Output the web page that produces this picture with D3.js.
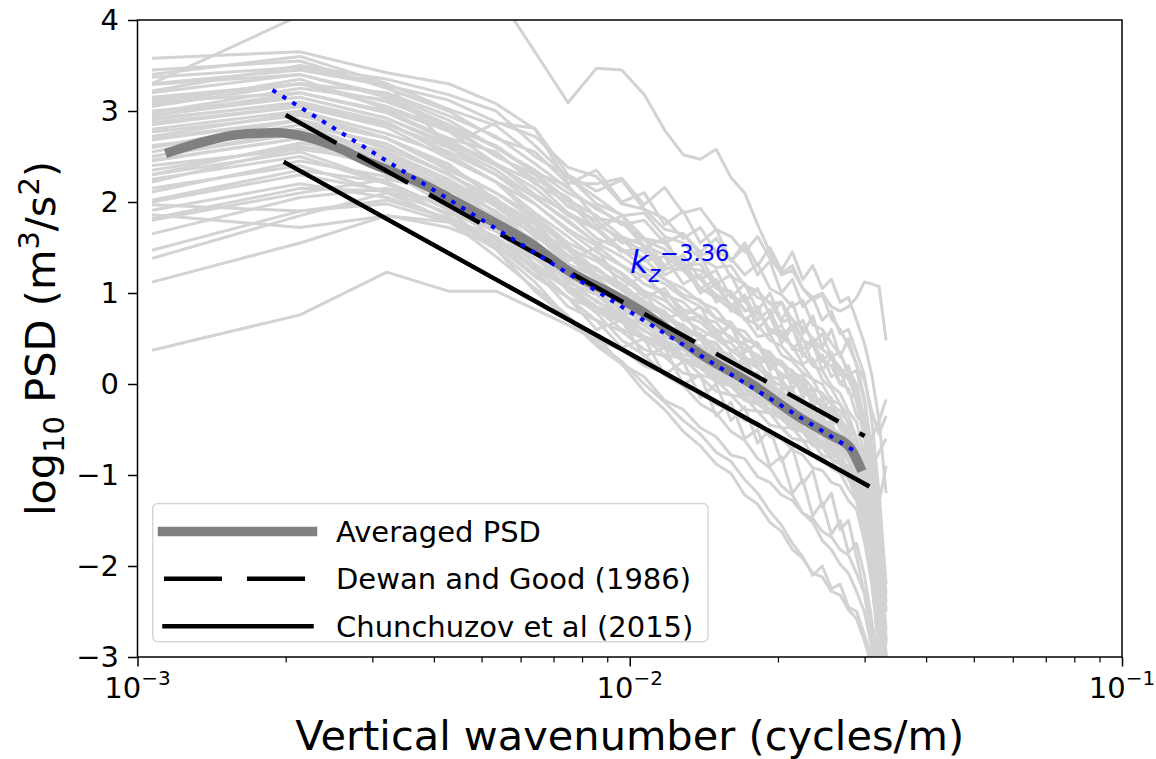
<!DOCTYPE html>
<html><head><meta charset="utf-8">
<script src="https://cdn.jsdelivr.net/npm/d3@7"></script>
<style>body{margin:0;background:#fff} text{font-family:"DejaVu Sans",sans-serif}</style>
</head><body><svg id="c" width="1156" height="759"></svg>
<script>
// wavenumber grid (cycles/m)
const wavenumber = [0.00107,0.00214,0.00321,0.00428,0.00535,0.00642,0.00749,0.00856,0.00963,0.0107,
  0.01177,0.01284,0.01391,0.01498,0.01605,0.01712,0.01819,0.01926,0.02033,0.0214,
  0.02247,0.02354,0.02461,0.02568,0.02675,0.02782,0.02889,0.02996,0.03103,0.0321,0.03317];

// individual log10 PSD profiles
const psd01=[3.58,3.65,3.42,3.3,3.08,2.8,2.21,2.2,2.26,1.97,2.16,1.88,1.93,1.7,1.62,1.45,1.62,1.38,1.22,1.3,1.05,0.92,0.98,0.72,0.6,0.42,0.22,-0.15,-0.75,-1.6,-2.5];
const psd02=[3.37,3.48,3.3,3.02,2.84,2.5,2.28,1.98,1.86,1.6,1.55,1.3,1.32,1.05,1.02,0.8,0.85,0.58,0.52,0.42,0.22,0.28,0.05,-0.05,-0.22,-0.35,-0.6,-0.95,-1.45,-2.2,-3.1];
const psd03=[3.29,3.4,3.18,2.9,2.6,2.32,2.02,1.85,1.62,1.52,1.28,1.25,1.05,0.95,0.82,0.72,0.52,0.55,0.32,0.25,0.12,0.05,-0.15,-0.2,-0.38,-0.5,-0.72,-1.05,-1.6,-2.45,-3.3];
const psd04=[3.15,3.3,3.2,2.95,2.72,2.42,2.15,1.92,1.78,1.58,1.48,1.28,1.25,1.1,0.98,0.82,0.78,0.6,0.58,0.4,0.35,0.2,0.15,-0.02,-0.1,-0.3,-0.42,-0.78,-1.25,-1.95,-2.85];
const psd05=[3.07,3.35,3.02,2.78,2.42,2.22,1.88,1.72,1.48,1.38,1.15,1.05,0.9,0.82,0.62,0.58,0.4,0.35,0.2,0.15,-0.02,-0.08,-0.25,-0.28,-0.48,-0.58,-0.85,-1.2,-1.8,-2.55,-3.4];
const psd06=[2.98,3.25,3.12,2.82,2.62,2.32,2.18,1.82,1.78,1.52,1.42,1.25,1.15,0.98,0.88,0.72,0.65,0.48,0.42,0.28,0.2,0.05,0.0,-0.18,-0.22,-0.45,-0.58,-0.98,-1.45,-2.25,-3.05];
const psd07=[3.3,3.45,3.28,3.12,2.88,2.72,2.38,2.28,1.98,1.92,1.7,1.65,1.42,1.45,1.18,1.1,0.95,0.9,0.68,0.72,0.48,0.42,0.25,0.2,0.0,-0.05,-0.35,-0.45,-0.6,-0.4,-0.17];
const psd08=[3.1,3.2,2.98,2.68,2.42,2.08,1.88,1.6,1.48,1.28,1.15,0.98,0.92,0.72,0.68,0.48,0.45,0.25,0.22,0.05,0.0,-0.15,-0.2,-0.4,-0.45,-0.7,-0.82,-1.25,-1.8,-2.65,-3.5];
const psd09=[3.4,3.6,3.3,2.62,2.87,2.81,2.3,2.12,2.24,1.92,1.82,1.6,1.72,1.45,1.38,1.2,1.32,1.05,0.98,0.85,0.92,0.65,0.6,0.45,0.32,0.15,0.0,-0.4,-1.0,-1.8,-2.7];
const psd10=[3.22,3.5,3.35,3.18,3.0,2.62,2.27,2.05,1.85,1.88,1.62,1.55,1.38,1.28,1.3,1.08,1.02,0.88,0.9,0.7,0.62,0.5,0.38,0.3,0.18,0.05,-0.15,-0.5,-1.1,-1.9,-2.8];
const psd11=[2.87,3.05,2.82,2.48,2.22,1.88,1.62,1.38,1.22,1.02,0.92,0.75,0.68,0.52,0.45,0.28,0.25,0.08,0.05,-0.12,-0.15,-0.35,-0.35,-0.52,-0.55,-0.75,-0.88,-1.3,-1.8,-2.65,-3.4];
const psd12=[2.77,2.95,2.7,2.42,2.02,1.78,1.4,1.28,1.05,0.92,0.72,0.65,0.5,0.45,0.25,0.22,0.05,0.02,-0.15,-0.15,-0.32,-0.35,-0.5,-0.52,-0.7,-0.72,-0.98,-1.22,-1.7,-2.35,-3.25];
const psd13=[2.68,2.9,2.58,2.32,1.96,1.68,1.32,1.18,0.92,0.82,0.64,0.58,0.38,0.34,0.15,0.14,-0.05,-0.05,-0.2,-0.22,-0.38,-0.38,-0.55,-0.58,-0.75,-0.8,-1.05,-1.32,-1.95,-2.75,-3.5];
const psd14=[2.55,2.85,2.64,2.3,2.04,1.7,1.48,1.2,1.08,0.85,0.78,0.58,0.55,0.35,0.32,0.12,0.12,-0.08,-0.05,-0.25,-0.25,-0.45,-0.4,-0.62,-0.58,-0.8,-0.85,-1.15,-1.5,-2.15,-2.95];
const psd15=[2.46,2.7,2.42,2.18,1.82,1.58,1.22,1.08,0.82,0.72,0.52,0.48,0.3,0.25,0.05,0.03,-0.15,-0.15,-0.32,-0.32,-0.5,-0.5,-0.66,-0.68,-0.85,-0.9,-1.15,-1.4,-2.05,-2.85,-3.6];
const psd16=[2.35,2.62,2.38,2.15,1.78,1.5,1.18,1.02,0.8,0.7,0.52,0.45,0.28,0.22,0.05,0.0,-0.14,-0.18,-0.3,-0.32,-0.48,-0.52,-0.65,-0.7,-0.85,-0.92,-1.2,-1.5,-2.15,-2.95,-3.7];
const psd17=[2.22,2.6,2.52,2.22,2.0,1.68,1.42,1.2,1.03,0.85,0.75,0.6,0.52,0.38,0.28,0.12,0.08,-0.05,-0.08,-0.22,-0.25,-0.38,-0.42,-0.55,-0.58,-0.72,-0.82,-1.12,-1.5,-2.25,-3.0];
const psd18=[2.62,2.8,2.52,2.25,1.88,1.65,1.3,1.12,0.92,0.8,0.58,0.55,0.35,0.32,0.12,0.1,-0.08,-0.08,-0.25,-0.25,-0.42,-0.42,-0.58,-0.6,-0.75,-0.82,-1.05,-1.28,-1.85,-2.5,-3.3];
const psd19=[2.8,3.0,2.75,2.52,2.22,1.98,1.7,1.52,1.3,1.18,0.98,0.9,0.72,0.68,0.48,0.45,0.28,0.25,0.08,0.08,-0.1,-0.12,-0.28,-0.3,-0.48,-0.52,-0.75,-0.7,-0.9,-0.75,-0.6];
const psd20=[2.9,3.1,2.88,2.52,2.22,1.82,1.52,1.25,1.1,0.9,0.8,0.6,0.55,0.38,0.32,0.15,0.1,-0.02,-0.08,-0.2,-0.22,-0.4,-0.4,-0.55,-0.58,-0.75,-0.85,-1.18,-1.6,-2.4,-3.2];
const psd21=[3.0,3.15,2.92,2.62,2.35,2.05,1.78,1.55,1.4,1.22,1.1,0.95,0.85,0.72,0.62,0.5,0.42,0.3,0.25,0.12,0.08,-0.05,-0.1,-0.22,-0.3,-0.42,-0.6,-0.9,-1.35,-2.0,-2.85];
const psd22=[2.72,2.98,2.7,2.38,2.1,1.8,1.5,1.35,1.15,1.0,0.85,0.72,0.6,0.5,0.38,0.25,0.18,0.05,-0.02,-0.12,-0.2,-0.3,-0.38,-0.48,-0.55,-0.68,-0.82,-1.1,-1.55,-2.3,-3.1];
const psd23=[2.5,2.75,2.5,2.2,1.88,1.55,1.28,1.08,0.9,0.75,0.62,0.48,0.4,0.28,0.18,0.06,0.0,-0.12,-0.18,-0.3,-0.35,-0.48,-0.52,-0.65,-0.7,-0.85,-1.0,-1.3,-1.9,-2.7,-3.5];
const psd24=[2.4,2.58,2.45,2.08,1.85,1.5,1.3,1.05,0.95,0.72,0.65,0.45,0.42,0.22,0.2,0.02,0.0,-0.18,-0.18,-0.35,-0.35,-0.52,-0.5,-0.68,-0.68,-0.85,-0.92,-1.25,-1.75,-2.5,-3.3];
const psd25=[2.92,3.08,2.86,2.55,2.3,1.98,1.68,1.45,1.3,1.1,1.0,0.82,0.75,0.6,0.52,0.38,0.32,0.2,0.12,0.02,-0.05,-0.18,-0.22,-0.35,-0.42,-0.55,-0.7,-1.0,-1.5,-2.2,-3.0];
const psd26=[2.11,2.45,2.28,2.08,1.72,1.48,1.12,0.98,0.75,0.65,0.48,0.4,0.25,0.18,0.02,-0.02,-0.18,-0.2,-0.32,-0.38,-0.5,-0.52,-0.68,-0.7,-0.85,-0.92,-1.15,-1.4,-1.95,-2.6,-3.45];
const psd27=[2.02,2.35,2.22,1.92,1.68,1.32,1.08,0.82,0.72,0.52,0.42,0.28,0.22,0.05,-0.02,-0.15,-0.2,-0.32,-0.35,-0.48,-0.52,-0.65,-0.68,-0.82,-0.88,-1.02,-1.18,-1.52,-2.05,-2.8,-3.6];
const psd28=[1.91,2.2,2.05,1.82,1.52,1.28,0.95,0.82,0.6,0.5,0.32,0.28,0.1,0.05,-0.12,-0.15,-0.3,-0.32,-0.48,-0.48,-0.62,-0.65,-0.78,-0.82,-0.98,-1.02,-1.28,-1.55,-2.15,-2.9,-3.7];
const psd29=[1.82,2.15,2.12,1.88,1.68,1.38,1.15,0.9,0.78,0.58,0.48,0.32,0.28,0.1,0.05,-0.1,-0.15,-0.28,-0.32,-0.45,-0.48,-0.62,-0.62,-0.78,-0.82,-1.0,-1.12,-1.48,-2.0,-2.7,-3.5];
const psd30=[1.97,1.9,2.02,1.82,1.62,1.28,1.05,0.8,0.68,0.48,0.4,0.25,0.18,0.02,-0.02,-0.18,-0.22,-0.32,-0.38,-0.5,-0.52,-0.68,-0.7,-0.82,-0.88,-1.05,-1.18,-1.52,-2.0,-2.75,-3.55];
const psd31=[1.8,2.1,2.25,2.12,1.98,1.68,1.48,1.2,1.08,0.88,0.75,0.58,0.52,0.32,0.28,0.1,0.08,-0.08,-0.08,-0.25,-0.28,-0.4,-0.42,-0.58,-0.6,-0.78,-0.88,-1.22,-1.7,-2.45,-3.2];
const psd32=[1.86,1.72,1.85,1.72,1.52,1.18,0.95,0.7,0.58,0.38,0.3,0.12,0.08,-0.08,-0.12,-0.28,-0.3,-0.45,-0.48,-0.6,-0.62,-0.78,-0.8,-0.92,-0.98,-1.15,-1.28,-1.62,-2.1,-2.9,-3.8];
const psd33=[1.47,1.9,1.98,1.78,1.58,1.28,1.08,0.85,0.75,0.52,0.45,0.28,0.22,0.08,0.02,-0.12,-0.15,-0.3,-0.32,-0.45,-0.5,-0.62,-0.65,-0.78,-0.82,-0.98,-1.1,-1.42,-1.95,-2.7,-3.5];
const psd34=[1.38,1.85,2.1,2.02,1.8,1.58,1.22,1.08,0.85,0.72,0.55,0.48,0.32,0.25,0.1,0.05,-0.1,-0.12,-0.28,-0.3,-0.42,-0.48,-0.58,-0.62,-0.78,-0.82,-1.02,-1.28,-1.8,-2.5,-3.3];
const psd35=[1.12,1.55,1.85,1.78,1.58,1.38,1.08,0.92,0.7,0.6,0.42,0.38,0.2,0.15,-0.02,-0.05,-0.2,-0.22,-0.38,-0.4,-0.52,-0.55,-0.68,-0.72,-0.85,-0.92,-1.12,-1.38,-1.9,-2.6,-3.4];
const psd36=[0.37,0.76,1.23,1.02,1.02,0.82,0.65,0.48,0.38,0.2,0.12,-0.02,-0.08,-0.22,-0.28,-0.4,-0.42,-0.58,-0.6,-0.72,-0.78,-0.92,-0.95,-1.08,-1.12,-1.28,-1.38,-1.72,-2.2,-2.9,-3.6];
const psd37=[2.3,2.55,2.22,1.92,1.48,1.12,0.72,0.52,0.22,0.08,-0.18,-0.28,-0.48,-0.58,-0.78,-0.82,-1.02,-1.08,-1.22,-1.28,-1.42,-1.48,-1.62,-1.68,-1.82,-1.88,-2.08,-2.3,-2.7,-3.2,-3.8];
const psd38=[2.6,2.85,2.52,2.22,1.78,1.45,1.02,0.78,0.48,0.32,0.1,-0.02,-0.22,-0.32,-0.52,-0.62,-0.82,-0.92,-1.12,-1.22,-1.42,-1.52,-1.72,-1.82,-1.98,-2.08,-2.28,-2.5,-2.9,-3.3,-3.8];
const psd39=[2.0,2.3,2.12,1.78,1.48,1.02,0.72,0.42,0.22,-0.08,-0.28,-0.52,-0.68,-0.88,-0.98,-1.22,-1.32,-1.52,-1.62,-1.82,-1.92,-2.08,-2.12,-2.28,-2.32,-2.48,-2.58,-2.82,-3.1,-3.5,-4.0];
const psd40=[3.3,4.05,4.3,4.4,4.3,3.65,3.09,3.47,3.45,3.18,2.79,2.52,2.47,2.58,2.27,2.1,1.75,1.45,1.2,1.25,1.05,0.95,1.0,0.85,0.8,0.85,0.95,1.12,1.1,1.07,0.48];
const psd41=[3.45,3.55,3.25,3.0,2.7,2.55,2.2,2.35,2.0,2.1,1.75,1.9,1.55,1.7,1.35,1.5,1.2,1.35,1.0,1.15,0.85,0.95,0.7,0.8,0.55,0.6,0.35,0.1,-0.4,-1.2,-2.2];
const psd42=[2.95,3.2,3.0,2.7,2.55,2.2,2.0,1.7,1.85,1.5,1.6,1.25,1.4,1.1,1.2,0.9,1.05,0.75,0.9,0.6,0.7,0.45,0.55,0.3,0.35,0.1,0.15,-0.2,-0.7,-1.5,-2.4];
const psd43=[2.7,2.9,2.6,2.3,2.0,1.75,1.35,1.5,1.05,1.2,0.95,0.7,0.75,0.5,0.65,0.3,0.2,0.35,0.0,-0.05,0.1,-0.25,-0.3,-0.15,-0.5,-0.55,-0.85,-1.2,-1.7,-2.5,-3.3];
const psd44=[2.25,2.5,2.2,1.85,1.55,1.2,0.95,0.6,0.7,0.3,0.4,0.0,0.1,-0.35,-0.2,-0.6,-0.5,-0.9,-0.8,-1.2,-1.05,-1.45,-1.3,-1.65,-1.5,-1.85,-1.75,-2.1,-2.6,-3.1,-3.7];
const psd45=[3.2,3.4,3.15,2.85,2.5,2.3,1.95,1.8,1.55,1.6,1.3,1.42,1.15,1.25,0.95,1.1,0.8,1.0,0.7,0.9,0.55,0.75,0.4,0.6,0.3,0.5,0.2,0.05,-0.3,-0.55,-0.35];
const psd46=[2.45,2.7,2.35,1.95,1.6,1.25,0.85,0.7,0.4,0.5,0.1,0.25,-0.15,0.0,-0.4,-0.25,-0.65,-0.5,-0.85,-0.7,-1.1,-0.95,-1.35,-1.2,-1.6,-1.5,-1.9,-2.3,-2.8,-3.3,-3.9];
const psd47=[2.85,3.05,2.85,2.6,2.3,2.05,1.8,1.55,1.6,1.35,1.4,1.1,1.2,0.9,1.0,0.7,0.82,0.55,0.65,0.38,0.5,0.22,0.32,0.08,0.15,-0.1,-0.15,-0.45,-0.9,-1.3,-0.9];
const psd48=[3.05,3.3,3.1,2.85,2.6,2.35,2.1,1.95,1.75,1.8,1.55,1.65,1.45,1.6,1.35,1.55,1.3,1.5,1.25,1.45,1.15,1.3,1.05,1.15,0.9,0.95,0.7,0.45,0.1,-0.4,-1.2];
const psd49=[2.6,2.9,2.7,2.35,2.1,1.85,1.55,1.4,1.2,0.95,1.05,0.75,0.85,0.55,0.65,0.35,0.45,0.15,0.25,-0.05,0.05,-0.25,-0.15,-0.45,-0.35,-0.65,-0.6,-0.95,-1.45,-2.2,-3.0];
const psd50=[2.15,2.4,2.1,1.8,1.4,1.05,0.75,0.45,0.25,0.0,-0.2,-0.4,-0.55,-0.75,-0.85,-1.05,-1.2,-1.4,-1.55,-1.75,-1.9,-2.1,-2.0,-2.25,-2.2,-2.45,-2.5,-2.75,-3.0,-3.4,-3.9];
const psd51=[2.5,2.78,2.55,2.25,1.95,1.62,1.4,1.15,0.95,1.0,0.7,0.8,0.5,0.6,0.35,0.45,0.2,0.3,0.05,0.12,-0.15,-0.05,-0.3,-0.25,-0.5,-0.45,-0.75,-1.0,-1.5,-2.3,-3.1];
const psd52=[3.12,3.3,3.05,2.8,2.52,2.25,2.05,1.75,1.6,1.45,1.25,1.35,1.05,1.15,0.85,0.98,0.7,0.82,0.52,0.65,0.38,0.5,0.25,0.35,0.1,0.2,-0.1,-0.35,-0.8,-1.45,-2.3];
const psd53=[2.3,2.65,2.48,2.15,1.9,1.55,1.3,1.05,0.85,0.65,0.72,0.42,0.5,0.2,0.3,0.0,0.08,-0.2,-0.1,-0.42,-0.3,-0.6,-0.5,-0.8,-0.72,-1.0,-1.1,-1.45,-2.0,-2.8,-3.6];
const psd54=[1.65,2.05,2.15,1.95,1.7,1.45,1.18,1.0,0.82,0.85,0.55,0.65,0.35,0.45,0.15,0.3,0.0,0.12,-0.18,-0.05,-0.35,-0.22,-0.5,-0.4,-0.68,-0.6,-0.9,-1.2,-1.75,-2.55,-3.4];
const psd55=[2.95,3.15,2.92,2.65,2.4,2.15,1.85,1.7,1.45,1.5,1.2,1.3,1.0,1.1,0.8,0.95,0.6,0.75,0.45,0.62,0.3,0.45,0.15,0.3,0.0,0.12,-0.2,-0.6,-1.1,-1.9,-2.8];
const spectra=[psd01,psd02,psd03,psd04,psd05,psd06,psd07,psd08,psd09,psd10,psd11,psd12,psd13,psd14,psd15,psd16,psd17,psd18,psd19,psd20,
  psd21,psd22,psd23,psd24,psd25,psd26,psd27,psd28,psd29,psd30,psd31,psd32,psd33,psd34,psd35,psd36,psd37,psd38,psd39,psd40,
  psd41,psd42,psd43,psd44,psd45,psd46,psd47,psd48,psd49,psd50,psd51,psd52,psd53,psd54,psd55];

// averaged PSD
const avgK=[0.001164,0.001339,0.001593,0.001921,0.00218,0.002543,0.002968,0.003751,0.004317,0.004968,0.006276,0.007571,0.009431,0.01085,0.01391,0.01757,0.02219,0.02554,0.02804,0.02937];
const avgPSD=[2.55,2.65,2.74,2.76,2.72,2.60,2.43,2.21,2.04,1.86,1.55,1.23,0.96,0.76,0.33,0.01,-0.37,-0.56,-0.70,-0.91];

// reference spectra
const dewanK=[0.002,0.03], dewanPSD=[2.956,-0.572];
const chunK=[0.002,0.0304], chunPSD=[2.43,-1.115];
const fitK=[0.00188,0.0285], fitPSD=[3.23,-0.73];

const yTicks=[-3,-2,-1,0,1,2,3,4];
const xMajor=[1e-3,1e-2,1e-1], xMajorExp=["−3","−2","−1"];
const xMinor=[2e-3,3e-3,4e-3,5e-3,6e-3,7e-3,8e-3,9e-3,2e-2,3e-2,4e-2,5e-2,6e-2,7e-2,8e-2,9e-2];
const legendLabels=["Averaged PSD","Dewan and Good (1986)","Chunchuzov et al (2015)"];

const L=137.5,R=1122,T=20,B=657;
const x=d3.scaleLog().domain([1e-3,1e-1]).range([L,R]);
const y=d3.scaleLinear().domain([-3,4]).range([B,T]);
const svg=d3.select("#c");
svg.append("defs").append("clipPath").attr("id","clip").append("rect").attr("x",L).attr("y",T).attr("width",R-L).attr("height",B-T);
const plot=svg.append("g").attr("clip-path","url(#clip)");
const line=d3.line().x(d=>x(d[0])).y(d=>y(d[1]));

plot.selectAll("path.spec").data(spectra).enter().append("path").attr("class","spec")
  .attr("d",s=>line(s.map((v,i)=>[wavenumber[i],v])))
  .attr("fill","none").attr("stroke","#d3d3d3").attr("stroke-width",3).attr("stroke-linejoin","round");

plot.append("path").attr("d",d3.line().x(d=>x(d[0])).y(d=>y(d[1])).curve(d3.curveMonotoneX)(avgK.map((k,i)=>[k,avgPSD[i]])))
  .attr("fill","none").attr("stroke","#808080").attr("stroke-width",9.5).attr("stroke-linecap","square");
plot.append("path").attr("d",line(dewanK.map((k,i)=>[k,dewanPSD[i]])))
  .attr("fill","none").attr("stroke","#000").attr("stroke-width",4.5).attr("stroke-dasharray","58,24");
plot.append("path").attr("d",line(chunK.map((k,i)=>[k,chunPSD[i]])))
  .attr("fill","none").attr("stroke","#000").attr("stroke-width",4.5).attr("stroke-linecap","square");
plot.append("path").attr("d",line(fitK.map((k,i)=>[k,fitPSD[i]])))
  .attr("fill","none").attr("stroke","#0000ff").attr("stroke-width",4).attr("stroke-dasharray","4.4,7.3");

// annotation
const ann=svg.append("text").attr("x",630).attr("y",273).attr("fill","#0000ff").attr("font-size",32);
ann.append("tspan").attr("font-style","italic").text("k");
ann.append("tspan").attr("font-style","italic").attr("font-size",22.5).attr("dy",9).text("z");
ann.append("tspan").attr("font-size",22.5).attr("dy",-21).text("−3.36");

// axes
const ax=svg.append("g").attr("transform",`translate(0,${B})`)
  .call(d3.axisBottom(x).tickValues(xMajor).tickSize(9.5).tickFormat(""));
ax.select(".domain").remove();
ax.selectAll("line").attr("stroke-width",1.5);
const axm=svg.append("g").attr("transform",`translate(0,${B})`)
  .call(d3.axisBottom(x).tickValues(xMinor).tickSize(5.5).tickFormat(""));
axm.select(".domain").remove();
axm.selectAll("line").attr("stroke-width",1.2);
xMajor.forEach((v,i)=>{
  const t=svg.append("text").attr("x",x(v)).attr("y",698).attr("text-anchor","middle").attr("font-size",29);
  t.append("tspan").text("10");
  t.append("tspan").attr("font-size",20).attr("dy",-13).text(xMajorExp[i]);
});
const ay=svg.append("g").attr("transform",`translate(${L},0)`)
  .call(d3.axisLeft(y).tickValues(yTicks).tickSize(9.5).tickPadding(9).tickFormat(d=>d<0?"−"+Math.abs(d):String(d)));
ay.select(".domain").remove();
ay.selectAll("line").attr("stroke-width",1.5);
ay.selectAll("text").attr("font-size",29).attr("font-family","DejaVu Sans").attr("fill","#000");
svg.append("rect").attr("x",L).attr("y",T).attr("width",R-L).attr("height",B-T).attr("fill","none").attr("stroke","#000").attr("stroke-width",1.5);

// axis labels
svg.append("text").attr("x",(L+R)/2).attr("y",750).attr("text-anchor","middle").attr("font-size",41.5).text("Vertical wavenumber (cycles/m)");
const yl=svg.append("text").attr("transform",`translate(55,${(T+B)/2}) rotate(-90)`).attr("text-anchor","middle").attr("font-size",41.5);
yl.append("tspan").text("log");
yl.append("tspan").attr("font-size",29).attr("dy",9).text("10");
yl.append("tspan").attr("dy",-9).text(" PSD (m");
yl.append("tspan").attr("font-size",29).attr("dy",-16).text("3");
yl.append("tspan").attr("dy",16).text("/s");
yl.append("tspan").attr("font-size",29).attr("dy",-16).text("2");
yl.append("tspan").attr("dy",16).text(")");

// legend
const lg=svg.append("g");
lg.append("rect").attr("x",152.7).attr("y",503.5).attr("width",555.3).attr("height",138.2).attr("rx",5)
  .attr("fill","#fff").attr("fill-opacity",0.8).attr("stroke","#d6d6d6").attr("stroke-width",1.5);
const rows=[531.4,578.7,626.3];
lg.append("line").attr("x1",162.5).attr("x2",312.5).attr("y1",rows[0]).attr("y2",rows[0]).attr("stroke","#808080").attr("stroke-width",9.5).attr("stroke-linecap","square");
lg.append("line").attr("x1",164).attr("x2",314).attr("y1",rows[1]).attr("y2",rows[1]).attr("stroke","#000").attr("stroke-width",4.5).attr("stroke-dasharray","58,25");
lg.append("line").attr("x1",164.5).attr("x2",311.5).attr("y1",rows[2]).attr("y2",rows[2]).attr("stroke","#000").attr("stroke-width",4.5).attr("stroke-linecap","square");
legendLabels.forEach((s,i)=>lg.append("text").attr("x",336).attr("y",rows[i]+10.5).attr("font-size",29).text(s));
</script></body></html>
